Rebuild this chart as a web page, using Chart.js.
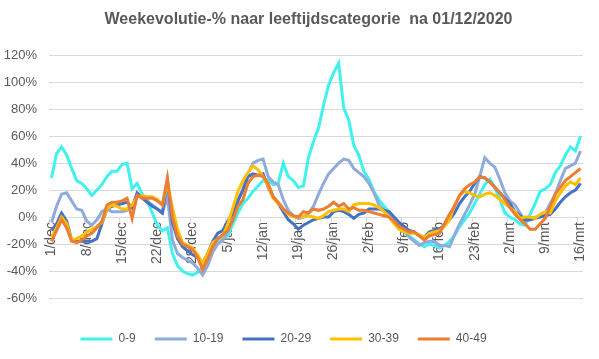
<!DOCTYPE html>
<html><head><meta charset="utf-8">
<script src="https://cdn.jsdelivr.net/npm/chart.js@4/dist/chart.umd.min.js"></script>
<style>html,body{margin:0;padding:0;background:#fff}</style>
</head><body>
<canvas id="c" width="599" height="359"></canvas>
<script>
const chartTitle = 'Weekevolutie-% naar leeftijdscategorie  na 01/12/2020';
const categories = [
'1/dec','2/dec','3/dec','4/dec','5/dec','6/dec','7/dec','8/dec','9/dec','10/dec','11/dec','12/dec','13/dec','14/dec','15/dec','16/dec','17/dec','18/dec','19/dec','20/dec','21/dec','22/dec','23/dec','24/dec','25/dec','26/dec','27/dec','28/dec','29/dec','30/dec','31/dec',
'1/jan','2/jan','3/jan','4/jan','5/jan','6/jan','7/jan','8/jan','9/jan','10/jan','11/jan','12/jan','13/jan','14/jan','15/jan','16/jan','17/jan','18/jan','19/jan','20/jan','21/jan','22/jan','23/jan','24/jan','25/jan','26/jan','27/jan','28/jan','29/jan','30/jan','31/jan',
'1/feb','2/feb','3/feb','4/feb','5/feb','6/feb','7/feb','8/feb','9/feb','10/feb','11/feb','12/feb','13/feb','14/feb','15/feb','16/feb','17/feb','18/feb','19/feb','20/feb','21/feb','22/feb','23/feb','24/feb','25/feb','26/feb','27/feb','28/feb',
'1/mrt','2/mrt','3/mrt','4/mrt','5/mrt','6/mrt','7/mrt','8/mrt','9/mrt','10/mrt','11/mrt','12/mrt','13/mrt','14/mrt','15/mrt','16/mrt'];
const tickLabels = ['1/dec','8/dec','15/dec','22/dec','29/dec','5/jan','12/jan','19/jan','26/jan','2/feb','9/feb','16/feb','23/feb','2/mrt','9/mrt','16/mrt'];
const seriesNames = ['0-9','10-19','20-29','30-39','40-49'];
const seriesColors = ['#3ff2ee','#8faadc','#4472c4','#ffc000','#ed7d31'];

const s0_9 = [29,47,52,46,36,27,25,21,16,20,24,30,34,34,39,40,21,25,17,12,3,-6,-10,-8,-27,-36,-40,-42,-43,-41,-37,-30,-22,-17,-15,-14,-5,3,10,14,19,23,27,28,24,25,40,30,27,22,23,44,56,66,83,98,107,114,81,72,53,46,34,28,19,13,8,4,-1,-6,-11,-14,-17,-20,-22,-20,-21,-23,-21,-18,-14,-7,-2,3,10,17,24,28,22,13,3,0,-2,-5,-6,2,10,19,21,24,33,38,46,52,49,60];
const s10_19 = [-4,8,17,18,12,6,5,-3,-6,-2,4,6,4,4,4,5,8,17,15,12,9,6,3,15,-17,-27,-30,-32,-34,-38,-43,-36,-26,-20,-17,-11,3,12,21,32,40,42,43,30,26,24,13,5,1,-1,0,3,8,17,25,32,36,40,43,42,36,33,30,25,18,9,5,1,-2,-6,-10,-15,-18,-21,-19,-18,-18,-21,-21,-22,-13,-5,2,9,17,30,44,40,37,28,18,12,9,3,-3,-2,0,1,3,10,17,27,36,38,40,49];
const s20_29 = [-10,-5,3,-3,-17,-18,-18,-18,-18,-16,-5,6,8,9,10,11,7,18,14,11,8,6,3,27,-4,-16,-22,-25,-28,-30,-34,-27,-18,-12,-10,-3,3,12,20,30,32,31,32,22,15,10,4,-2,-5,-9,-6,-4,-2,-1,0,0,4,5,4,2,-1,2,3,6,6,6,5,4,0,-4,-7,-10,-11,-14,-15,-11,-10,-9,-6,-2,3,10,15,19,25,30,29,26,22,18,14,10,4,1,-2,-2,-1,0,1,2,6,11,15,18,20,25];
const s30_39 = [-15,-8,0,-5,-17,-16,-14,-11,-9,-7,-4,6,9,8,6,6,9,15,16,15,15,13,9,25,7,-9,-19,-21,-23,-28,-34,-27,-19,-16,-14,-5,7,19,27,33,38,35,30,23,14,10,6,2,0,0,0,1,0,-1,1,4,5,6,6,4,9,10,10,10,9,7,4,0,-5,-9,-11,-12,-12,-13,-15,-12,-11,-10,-7,-2,9,16,19,18,16,15,17,18,16,13,10,7,4,-1,0,0,-1,2,4,3,12,18,23,26,24,29];
const s40_49 = [-18,-10,-2,-8,-18,-19,-17,-14,-12,-8,-3,9,11,11,12,14,-1,16,14,14,14,12,9,29,0,-14,-20,-22,-24,-30,-39,-31,-22,-16,-13,-10,-2,8,13,25,30,31,30,25,15,11,6,3,1,0,4,3,6,5,6,8,11,8,10,6,7,5,5,4,3,2,1,0,-3,-7,-9,-11,-11,-14,-17,-14,-13,-12,-5,2,8,16,21,24,26,30,29,26,22,18,13,7,2,-2,-5,-9,-9,-5,-1,8,17,22,27,30,33,36];
const seriesValues = [s0_9, s10_19, s20_29, s30_39, s40_49];

const FONT = "'Liberation Sans', Arial, sans-serif";
const TXT = '#595959';
const GRID = '#d9d9d9';

const boxShift = {
  id: 'boxShift',
  afterLayout(chart) {
    const lg = chart.legend;
    if (lg) { lg.left -= 8; lg.right -= 8; }
    const tt = chart.titleBlock;
    if (tt) { tt.left += 17; tt.right += 17; }
  }
};

new Chart(document.getElementById('c'), {
  type: 'line',
  data: {
    labels: categories,
    datasets: seriesValues.map((vals, k) => ({
      label: seriesNames[k],
      data: vals,
      borderColor: seriesColors[k],
      backgroundColor: seriesColors[k],
      borderWidth: 3,
      pointRadius: 0,
      tension: 0,
      fill: false,
      order: seriesValues.length - 1 - k,
      xAxisID: 'x',
      yAxisID: 'y'
    }))
  },
  options: {
    responsive: false,
    animation: false,
    devicePixelRatio: 1,
    layout: { padding: { left: 0, right: 16, top: 0, bottom: 4 } },
    plugins: {
      title: {
        display: true, text: chartTitle, color: TXT,
        font: { family: FONT, size: 16, weight: 'bold' },
        padding: { top: 10, bottom: 26 }
      },
      legend: {
        position: 'bottom',
        reverse: true,
        labels: {
          boxWidth: 32, boxHeight: 3, padding: 19, color: TXT,
          font: { family: FONT, size: 12 },
          generateLabels: (chart) => Chart.defaults.plugins.legend.labels.generateLabels(chart).map(l => Object.assign(l, { lineWidth: 0 }))
        }
      },
      tooltip: { enabled: false }
    },
    scales: {
      x: {
        type: 'category',
        position: { y: 0 },
        offset: true,
        grid: {
          offset: true, drawOnChartArea: false, tickLength: 4,
          color: (ctx) => (ctx.index % 7 === 0 ? GRID : 'rgba(0,0,0,0)')
        },
        border: { display: true, color: GRID },
        ticks: {
          autoSkip: false, minRotation: 90, maxRotation: 90, padding: 1,
          color: TXT, font: { family: FONT, size: 14 },
          callback: (v, i) => (tickLabels.includes(categories[i]) ? categories[i] : '')
        }
      },
      xPad: {
        type: 'category', position: 'bottom',
        grid: { display: false }, border: { display: false }, ticks: { display: false },
        afterFit: (s) => { s.height = 16; }
      },
      y: {
        min: -60, max: 120,
        ticks: { stepSize: 20, padding: 12, color: TXT, font: { family: FONT, size: 13 }, callback: (v) => v + '%' },
        grid: { color: GRID, drawTicks: false },
        border: { display: false },
        afterFit: (s) => { s.width = 49; }
      }
    }
  },
  plugins: [boxShift]
});
</script>
</body></html>
